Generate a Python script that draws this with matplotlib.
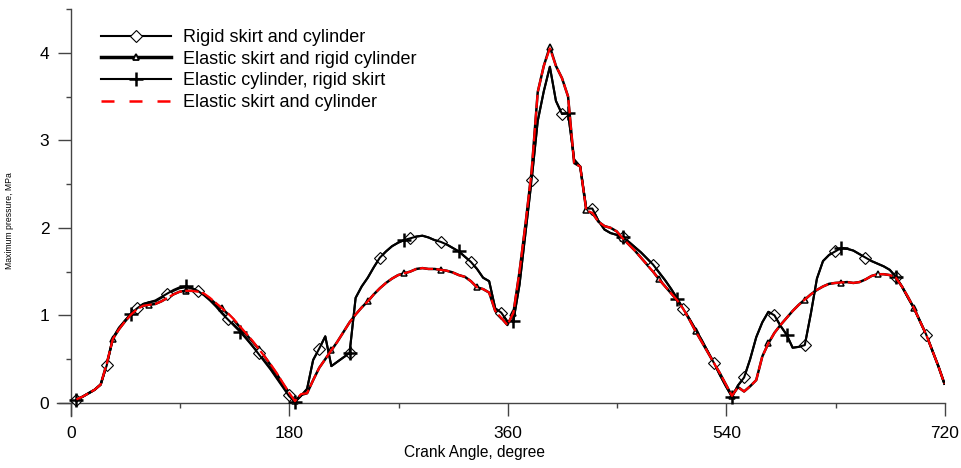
import numpy as np
import matplotlib
matplotlib.use("Agg")
import matplotlib.pyplot as plt
from matplotlib.lines import Line2D

plt.rcParams['font.family'] = ['Liberation Sans', 'DejaVu Sans']

# crank angle grid, degrees (4.5, 9.5, ... 719.5)
angle = np.arange(4.5, 720, 5)

# maximum pressure, MPa
rigid_skirt_cyl = [
    0.03, 0.07, 0.11, 0.15, 0.21, 0.43, 0.74, 0.85, 0.94, 1.02,
    1.08, 1.13, 1.15, 1.16, 1.20, 1.24, 1.28, 1.31, 1.32, 1.31,
    1.28, 1.24, 1.18, 1.11, 1.03, 0.96, 0.89, 0.82, 0.74, 0.65,
    0.57, 0.48, 0.39, 0.29, 0.19, 0.09, 0.01, 0.08, 0.16, 0.49,
    0.62, 0.76, 0.42, 0.47, 0.52, 0.57, 1.20, 1.33, 1.43, 1.55,
    1.66, 1.73, 1.79, 1.83, 1.86, 1.88, 1.90, 1.91, 1.89, 1.86,
    1.84, 1.81, 1.77, 1.73, 1.67, 1.61, 1.53, 1.43, 1.39, 1.08,
    1.03, 0.93, 0.94, 1.35, 1.95, 2.55, 3.22, 3.56, 3.84, 3.45,
    3.30, 3.31, 2.78, 2.70, 2.22, 2.22, 2.08, 1.98, 1.94, 1.92,
    1.89, 1.84, 1.78, 1.72, 1.65, 1.58, 1.49, 1.40, 1.30, 1.19,
    1.07, 0.96, 0.84, 0.72, 0.59, 0.46, 0.32, 0.19, 0.07, 0.20,
    0.29, 0.50, 0.75, 0.92, 1.04, 1.00, 0.88, 0.78, 0.63, 0.64,
    0.66, 1.02, 1.42, 1.62, 1.69, 1.73, 1.77, 1.76, 1.74, 1.70,
    1.66, 1.62, 1.59, 1.56, 1.52, 1.44, 1.33, 1.20, 1.08, 0.93,
    0.78, 0.60, 0.42, 0.22,
]

elastic_skirt_rigid_cyl = [
    0.04, 0.07, 0.11, 0.15, 0.21, 0.45, 0.73, 0.84, 0.93, 1.01,
    1.07, 1.11, 1.12, 1.13, 1.16, 1.20, 1.24, 1.27, 1.28, 1.28,
    1.27, 1.24, 1.19, 1.13, 1.08, 1.01, 0.94, 0.86, 0.78, 0.70,
    0.62, 0.53, 0.43, 0.33, 0.22, 0.12, 0.02, 0.09, 0.11, 0.26,
    0.40, 0.50, 0.60, 0.70, 0.81, 0.92, 1.01, 1.09, 1.16, 1.24,
    1.31, 1.37, 1.42, 1.46, 1.48, 1.50, 1.53, 1.54, 1.53, 1.53,
    1.52, 1.51, 1.49, 1.46, 1.44, 1.39, 1.32, 1.30, 1.26, 1.05,
    0.97, 0.89, 1.03, 1.50, 2.05, 2.65, 3.55, 3.85, 4.07, 3.85,
    3.71, 3.50, 2.74, 2.70, 2.20, 2.17, 2.07, 2.02, 2.00, 1.96,
    1.88, 1.81, 1.74, 1.66, 1.58, 1.50, 1.41, 1.33, 1.25, 1.17,
    1.07, 0.95, 0.82, 0.70, 0.58, 0.46, 0.34, 0.21, 0.08, 0.18,
    0.13, 0.19, 0.26, 0.53, 0.68, 0.80, 0.89, 0.97, 1.05, 1.12,
    1.18, 1.24, 1.29, 1.33, 1.36, 1.37, 1.375, 1.38, 1.37, 1.38,
    1.41, 1.45, 1.47, 1.47, 1.46, 1.43, 1.33, 1.21, 1.08, 0.93,
    0.78, 0.60, 0.42, 0.22,
]

elastic_cyl_rigid_skirt = [
    0.03, 0.07, 0.11, 0.15, 0.21, 0.43, 0.74, 0.86, 0.94, 1.02,
    1.08, 1.13, 1.15, 1.17, 1.21, 1.25, 1.29, 1.32, 1.33, 1.31,
    1.28, 1.23, 1.17, 1.10, 1.02, 0.95, 0.88, 0.81, 0.73, 0.65,
    0.56, 0.47, 0.38, 0.28, 0.18, 0.08, 0.01, 0.08, 0.16, 0.49,
    0.62, 0.76, 0.42, 0.47, 0.52, 0.57, 1.20, 1.33, 1.43, 1.55,
    1.66, 1.73, 1.79, 1.83, 1.86, 1.88, 1.90, 1.91, 1.89, 1.86,
    1.84, 1.81, 1.77, 1.73, 1.67, 1.61, 1.53, 1.43, 1.39, 1.08,
    1.03, 0.93, 0.94, 1.35, 1.95, 2.55, 3.22, 3.56, 3.84, 3.45,
    3.30, 3.31, 2.78, 2.70, 2.22, 2.22, 2.08, 1.98, 1.94, 1.92,
    1.89, 1.84, 1.78, 1.72, 1.65, 1.58, 1.49, 1.40, 1.30, 1.19,
    1.07, 0.96, 0.84, 0.72, 0.59, 0.46, 0.32, 0.19, 0.07, 0.20,
    0.29, 0.50, 0.75, 0.92, 1.04, 1.00, 0.88, 0.78, 0.63, 0.64,
    0.66, 1.02, 1.42, 1.62, 1.69, 1.73, 1.77, 1.76, 1.74, 1.70,
    1.66, 1.62, 1.59, 1.56, 1.52, 1.44, 1.33, 1.20, 1.08, 0.93,
    0.78, 0.60, 0.42, 0.22,
]

elastic_skirt_cyl = [
    0.04, 0.07, 0.11, 0.15, 0.21, 0.45, 0.73, 0.84, 0.93, 1.01,
    1.07, 1.11, 1.12, 1.13, 1.16, 1.20, 1.24, 1.27, 1.28, 1.28,
    1.27, 1.25, 1.20, 1.14, 1.08, 1.02, 0.95, 0.87, 0.79, 0.71,
    0.62, 0.53, 0.44, 0.34, 0.23, 0.12, 0.02, 0.10, 0.11, 0.26,
    0.40, 0.50, 0.60, 0.70, 0.81, 0.92, 1.01, 1.09, 1.16, 1.24,
    1.31, 1.37, 1.42, 1.46, 1.48, 1.50, 1.53, 1.54, 1.53, 1.53,
    1.52, 1.51, 1.49, 1.46, 1.44, 1.39, 1.32, 1.30, 1.26, 1.05,
    0.97, 0.89, 1.03, 1.50, 2.05, 2.65, 3.55, 3.85, 4.05, 3.85,
    3.71, 3.50, 2.74, 2.70, 2.20, 2.17, 2.07, 2.02, 2.00, 1.96,
    1.88, 1.81, 1.74, 1.66, 1.58, 1.50, 1.41, 1.33, 1.25, 1.17,
    1.07, 0.95, 0.82, 0.70, 0.58, 0.46, 0.34, 0.21, 0.08, 0.18,
    0.13, 0.19, 0.26, 0.53, 0.68, 0.80, 0.89, 0.97, 1.05, 1.12,
    1.18, 1.24, 1.29, 1.33, 1.36, 1.37, 1.375, 1.38, 1.37, 1.38,
    1.41, 1.45, 1.47, 1.47, 1.46, 1.43, 1.33, 1.21, 1.08, 0.93,
    0.78, 0.60, 0.42, 0.22,
]

x_ticks = [0, 180, 360, 540, 720]
y_ticks = [0, 1, 2, 3, 4]

W, H = 961, 468
fig = plt.figure(figsize=(W / 100, H / 100), dpi=100)
ax = fig.add_axes([57 / W, 52 / H, 888 / W, 407 / H])

ax.plot(angle, rigid_skirt_cyl, color='black', lw=1.5,
        marker='D', ms=6.5, mfc='white', mec='black', mew=0.8,
        markevery=(0, 5), label='Rigid skirt and cylinder', zorder=3)
ax.plot(angle, elastic_skirt_rigid_cyl, color='black', lw=1.8,
        marker='^', ms=5, mfc='white', mec='black', mew=1.1,
        markevery=(0, 6), label='Elastic skirt and rigid cylinder', zorder=2)
ax.plot(angle, elastic_cyl_rigid_skirt, color='black', lw=1.5,
        marker='+', ms=10, mew=1.8,
        markevery=(0, 9), label='Elastic cylinder, rigid skirt', zorder=3)
ax.plot(angle, elastic_skirt_cyl, color='red', lw=1.6, ls=(0, (6, 1.5)),
        label='Elastic skirt and cylinder', zorder=4)

ax.set_xlim(-11.5, 720)
ax.set_ylim(-0.15, 4.5)
for s in ['top', 'right']:
    ax.spines[s].set_visible(False)
ax.spines['left'].set_position(('data', 0))
ax.spines['bottom'].set_position(('data', 0))
for s in ['left', 'bottom']:
    ax.spines[s].set_color('#444444')
    ax.spines[s].set_linewidth(1.0)

ax.set_xticks(x_ticks)
ax.set_xticks([90, 270, 450, 630], minor=True)
ax.set_yticks(y_ticks)
ax.set_yticks([0.5, 1.5, 2.5, 3.5, 4.5], minor=True)
ax.tick_params(which='major', length=9.5, width=1.0, color='#444444',
               labelsize=12.5, direction='out')
ax.tick_params(which='minor', length=3.6, width=1.0, color='#444444',
               direction='out')
ax.tick_params(axis='x', pad=7)
ax.tick_params(axis='y', pad=6)

fig.text(474 / W, 1 - 452 / H, 'Crank Angle, degree', fontsize=11.2,
         ha='center', va='center')
fig.text(10 / W, 1 - 221 / H, 'Maximum pressure, MPa', fontsize=6.2,
         rotation=90, ha='center', va='center')

handles = [
    Line2D([], [], color='black', lw=1.5, marker='D', ms=6.5, mfc='white', mew=0.8),
    Line2D([], [], color='black', lw=2.5, marker='^', ms=5, mfc='white', mew=1.3),
    Line2D([], [], color='black', lw=1.5, marker='+', ms=10, mew=1.8),
    Line2D([], [], color='red', lw=1.8, ls=(0, (5.2, 6))),
]
labels = ['Rigid skirt and cylinder', 'Elastic skirt and rigid cylinder',
          'Elastic cylinder, rigid skirt', 'Elastic skirt and cylinder']
fig.legend(handles, labels, loc='upper left',
           bbox_to_anchor=(101 / W, 1 - 29 / H), frameon=False,
           fontsize=13, handlelength=3.9, handletextpad=0.65,
           borderpad=0, borderaxespad=0, labelspacing=0.26, numpoints=1)

fig.savefig('out.png', dpi=100)
